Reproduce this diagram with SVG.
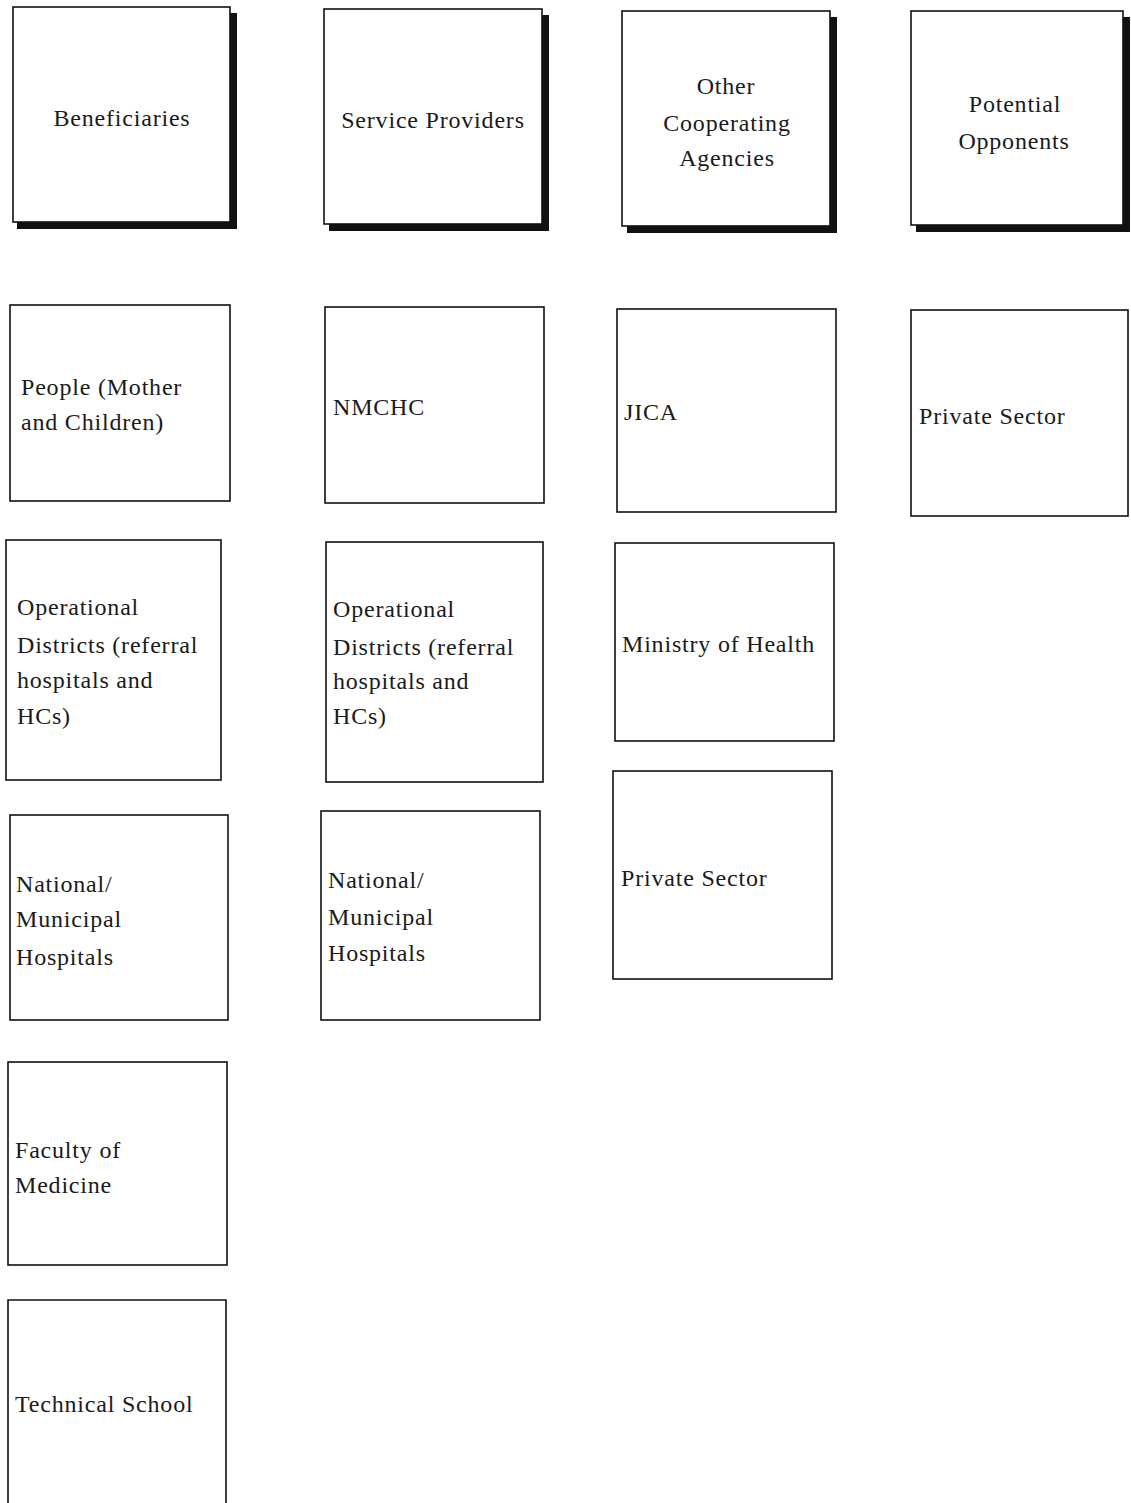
<svg xmlns="http://www.w3.org/2000/svg" width="1131" height="1503" viewBox="0 0 1131 1503">
  <style>
    .box { fill: #ffffff; stroke: #111111; stroke-width: 1.6; }
    .shadow { fill: #111111; }
    .lbl { font-family: "Liberation Serif", "Times New Roman", serif; font-size: 24px; fill: #1a1a1a; letter-spacing: 0.8px; }
    .mid { text-anchor: middle; }
  </style>
  <rect width="1131" height="1503" fill="#ffffff"/>

  <!-- column headers: outlined boxes with a heavy drop shadow on the right and bottom -->
  <g id="hdr-beneficiaries">
    <path class="shadow" d="M230,13 H237 V229 H17 V222 H230 Z"/>
    <rect class="box" x="13" y="7" width="217" height="215"/>
    <text class="lbl mid" x="122" y="126">Beneficiaries</text>
  </g>
  <g id="hdr-service-providers">
    <path class="shadow" d="M542,15 H549 V231 H329 V224 H542 Z"/>
    <rect class="box" x="324" y="9" width="218" height="215"/>
    <text class="lbl mid" x="433" y="128">Service Providers</text>
  </g>
  <g id="hdr-other-agencies">
    <path class="shadow" d="M830,17 H837 V233 H627 V226 H830 Z"/>
    <rect class="box" x="622" y="11" width="208" height="215"/>
    <text class="lbl mid" x="726" y="94">Other</text>
    <text class="lbl mid" x="727" y="131">Cooperating</text>
    <text class="lbl mid" x="727" y="166">Agencies</text>
  </g>
  <g id="hdr-potential-opponents">
    <path class="shadow" d="M1123,17 H1130 V232 H916 V225 H1123 Z"/>
    <rect class="box" x="911" y="11" width="212" height="214"/>
    <text class="lbl mid" x="1015" y="112">Potential</text>
    <text class="lbl mid" x="1014" y="149">Opponents</text>
  </g>

  <!-- Beneficiaries column -->
  <g id="ben-people">
    <rect class="box" x="10" y="305" width="220" height="196"/>
    <text class="lbl" x="21" y="395">People (Mother</text>
    <text class="lbl" x="21" y="430">and Children)</text>
  </g>
  <g id="ben-operational-districts">
    <rect class="box" x="6" y="540" width="215" height="240"/>
    <text class="lbl" x="17" y="615">Operational</text>
    <text class="lbl" x="17" y="653">Districts (referral</text>
    <text class="lbl" x="17" y="688">hospitals and</text>
    <text class="lbl" x="17" y="724">HCs)</text>
  </g>
  <g id="ben-national-hospitals">
    <rect class="box" x="10" y="815" width="218" height="205"/>
    <text class="lbl" x="16" y="892">National/</text>
    <text class="lbl" x="16" y="927">Municipal</text>
    <text class="lbl" x="16" y="965">Hospitals</text>
  </g>
  <g id="ben-faculty-of-medicine">
    <rect class="box" x="8" y="1062" width="219" height="203"/>
    <text class="lbl" x="15" y="1158">Faculty of</text>
    <text class="lbl" x="15" y="1193">Medicine</text>
  </g>
  <g id="ben-technical-school">
    <path class="box" d="M8,1504 V1300 H226 V1504"/>
    <text class="lbl" x="15" y="1412">Technical School</text>
  </g>

  <!-- Service Providers column -->
  <g id="sp-nmchc">
    <rect class="box" x="325" y="307" width="219" height="196"/>
    <text class="lbl" x="333" y="415">NMCHC</text>
  </g>
  <g id="sp-operational-districts">
    <rect class="box" x="326" y="542" width="217" height="240"/>
    <text class="lbl" x="333" y="617">Operational</text>
    <text class="lbl" x="333" y="655">Districts (referral</text>
    <text class="lbl" x="333" y="689">hospitals and</text>
    <text class="lbl" x="333" y="724">HCs)</text>
  </g>
  <g id="sp-national-hospitals">
    <rect class="box" x="321" y="811" width="219" height="209"/>
    <text class="lbl" x="328" y="888">National/</text>
    <text class="lbl" x="328" y="925">Municipal</text>
    <text class="lbl" x="328" y="961">Hospitals</text>
  </g>

  <!-- Other Cooperating Agencies column -->
  <g id="oca-jica">
    <rect class="box" x="617" y="309" width="219" height="203"/>
    <text class="lbl" x="624" y="420">JICA</text>
  </g>
  <g id="oca-ministry-of-health">
    <rect class="box" x="615" y="543" width="219" height="198"/>
    <text class="lbl" x="622" y="652">Ministry of Health</text>
  </g>
  <g id="oca-private-sector">
    <rect class="box" x="613" y="771" width="219" height="208"/>
    <text class="lbl" x="621" y="886">Private Sector</text>
  </g>

  <!-- Potential Opponents column -->
  <g id="po-private-sector">
    <rect class="box" x="911" y="310" width="217" height="206"/>
    <text class="lbl" x="919" y="424">Private Sector</text>
  </g>

  <!-- no links between the boxes -->
  <g id="connectors"/>
</svg>
